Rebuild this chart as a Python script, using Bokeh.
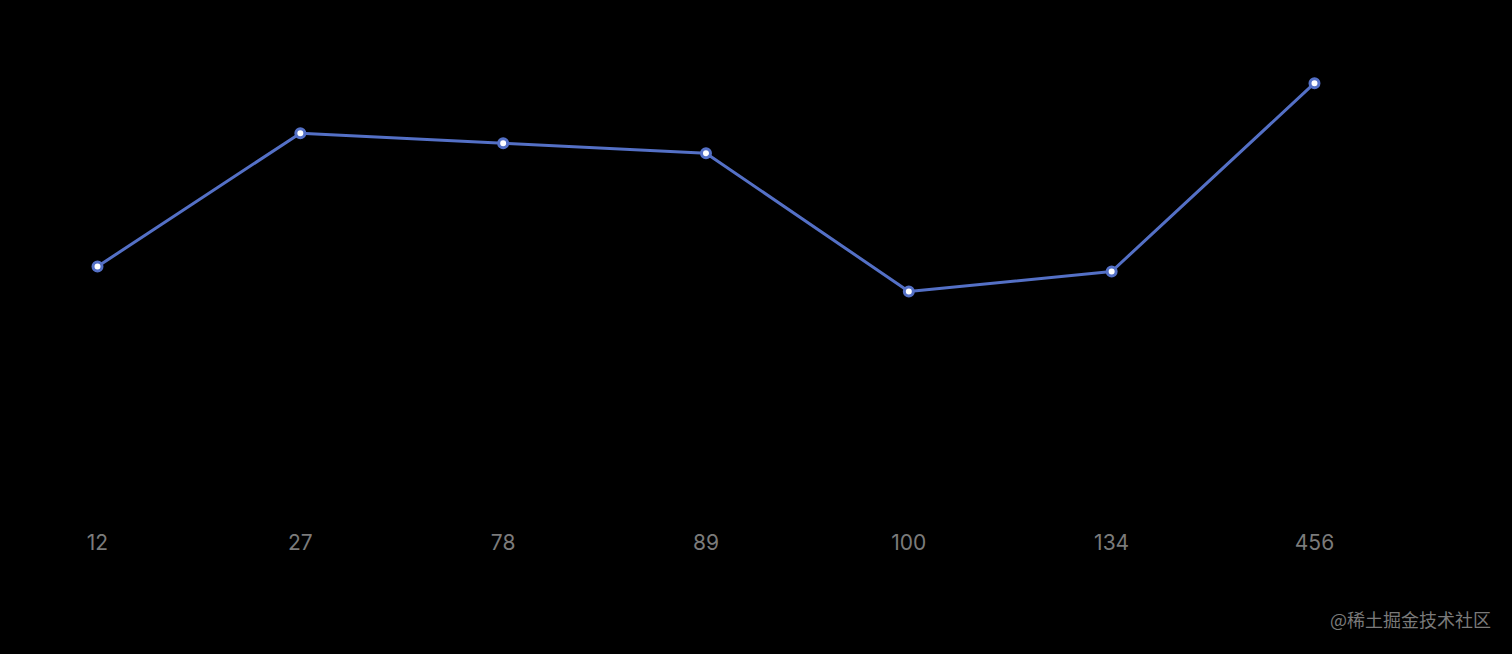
from bokeh.plotting import figure
from bokeh.models import Range1d, FixedTicker, LinearAxis, ColumnDataSource
from bokeh.embed import file_html
from bokeh.resources import INLINE

categories = ["12", "27", "78", "89", "100", "134", "456"]
values = [150, 230, 224, 218, 135, 147, 260]
watermark = "@稀土掘金技术社区"

idx = list(range(len(categories)))
src = ColumnDataSource(dict(x=idx, y=values))

W, H = 1512, 654
sx = 202.83
x0 = -97 / sx
x1 = x0 + W / sx
ky = 500 / 300
y1 = 300 + 16 / ky
frame_bottom = 520
y0 = y1 - frame_bottom / ky

p = figure(width=W, height=H, output_backend="svg", toolbar_location=None,
           x_range=Range1d(x0, x1), y_range=Range1d(y0, y1),
           min_border_left=0, min_border_right=0, min_border_top=0,
           min_border_bottom=H - frame_bottom)
p.background_fill_color = None
p.border_fill_color = "black"
p.outline_line_color = None
p.grid.visible = False
p.yaxis.visible = False

ax = p.xaxis[0]
ax.ticker = FixedTicker(ticks=idx)
ax.major_label_overrides = {i: c for i, c in enumerate(categories)}
ax.axis_line_color = None
ax.major_tick_line_color = None
ax.minor_tick_line_color = None
ax.major_label_text_color = "#7b7b7b"
ax.major_label_text_font = "Inter"
ax.major_label_text_font_size = "21px"
ax.major_label_standoff = 7

p.line("x", "y", source=src, line_color="#5470c6", line_width=3)
p.scatter("x", "y", source=src, size=9, fill_color="#ffffff",
          line_color="#5470c6", line_width=3)

# watermark as a second (label-only) axis below
wm_x = x0 + 1410 / sx
wax = LinearAxis(ticker=FixedTicker(ticks=[wm_x]),
                 major_label_overrides={wm_x: watermark},
                 axis_line_color=None, major_tick_line_color=None,
                 minor_tick_line_color=None, major_label_standoff=47,
                 major_label_text_color="#7a7a7a",
                 major_label_text_font="Noto Sans CJK SC",
                 major_label_text_font_size="18px")
p.add_layout(wax, "below")

html = file_html(p, INLINE).replace("<body>", '<body style="background:#000000">')
open("out.html", "w").write(html)
